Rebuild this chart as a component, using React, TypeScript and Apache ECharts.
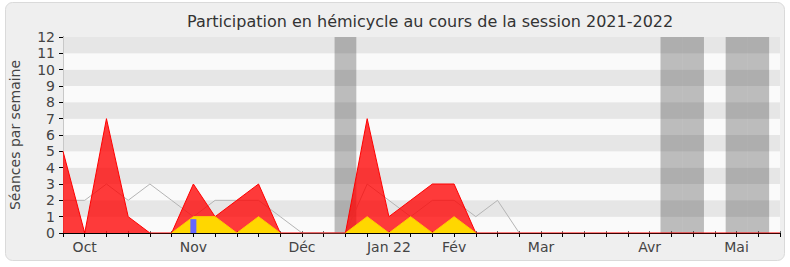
import React, { useEffect, useRef } from "react";
import * as echarts from "echarts";

// Weekly data (week index 0..33)
const weeks: number[] = Array.from({ length: 34 }, (_, i) => i);
const presence: number[] = [5, 0, 7, 1, 0, 0, 3, 1, 2, 3, 0, 0, 0, 0, 7, 1, 2, 3, 3, 0, 0, 0, 0, 0, 0, 0, 0, 0, 0, 0, 0, 0, 0, 0];
const interventions: (number | null)[] = [null, null, null, null, null, 0, 1, 1, 0, 1, 0, null, null, 0, 1, 0, 1, 0, 1, 0, null, null, null, null, null, null, null, null, null, null, null, null, null, null];
const median: (number | null)[] = [2, 2, 3, 2, 3, 2, 1, 2, 2, 2, 1, 0, 0, 0, 3, 2, 1, 2, 2, 1, 2, 0, null, null, null, null, null, null, null, null, null, null, null, null];
const questionWeeks: number[] = [6];
const questionValues: number[] = [0.85];
const holidayWeeks: number[] = [13, 28, 29, 31, 32];
const monthTickWeeks: number[] = [1, 6, 11, 15, 18, 22, 27, 31];
const monthLabels: string[] = ["Oct", "Nov", "Déc", "Jan 22", "Fév", "Mar", "Avr", "Mai"];
const yTicks: number[] = [0, 1, 2, 3, 4, 5, 6, 7, 8, 9, 10, 11, 12];

const FONT = "'DejaVu Sans', sans-serif";

export default function App() {
  const ref = useRef<HTMLDivElement>(null);
  useEffect(() => {
    if (!ref.current) return;
    const chart = echarts.init(ref.current, null, { renderer: "svg" });
    const labelMap: Record<number, string> = {};
    monthTickWeeks.forEach((w, i) => (labelMap[w] = monthLabels[i]));
    const questions: (number | null)[] = weeks.map((w) => {
      const k = questionWeeks.indexOf(w);
      return k >= 0 ? questionValues[k] : null;
    });
    chart.setOption({
      animation: false,
      backgroundColor: "#ffffff",
      textStyle: { fontFamily: FONT },
      title: {
        text: "Participation en hémicycle au cours de la session 2021-2022",
        left: 182,
        top: 8,
        textStyle: { fontFamily: FONT, fontSize: 16, fontWeight: "normal", color: "#333" },
      },
      graphic: {
        elements: [
          {
            type: "rect",
            z: -100,
            silent: true,
            shape: { x: 5.5, y: 2.5, width: 779, height: 258, r: 7 },
            style: { fill: "#efefef", stroke: "#dadada", lineWidth: 1 },
          },
        ],
      },
      grid: { left: 61, right: 10, top: 37, bottom: 34, containLabel: false },
      xAxis: [
        {
          type: "value",
          min: 0,
          max: weeks.length - 1,
          interval: 1,
          axisLine: { show: true, lineStyle: { color: "#000", width: 1 } },
          axisTick: { show: true, length: 4, lineStyle: { color: "#000" } },
          axisLabel: {
            formatter: (v: number) => labelMap[v] ?? "",
            fontFamily: FONT,
            fontSize: 14,
            color: "#444",
            margin: 7,
            showMinLabel: true,
            showMaxLabel: true,
          },
          splitLine: { show: false },
        },
        {
          type: "value",
          position: "top",
          min: 0,
          max: weeks.length - 1,
          interval: 1,
          axisLine: { show: false },
          axisTick: { show: true, length: 2, lineStyle: { color: "#666" } },
          axisLabel: { show: false },
          splitLine: { show: false },
        },
        {
          type: "category",
          data: weeks.map(String),
          boundaryGap: false,
          show: false,
        },
      ],
      yAxis: [
        {
          type: "value",
          min: yTicks[0],
          max: yTicks[yTicks.length - 1],
          interval: 1,
          name: "Séances par semaine",
          nameLocation: "middle",
          nameGap: 41,
          nameTextStyle: { fontFamily: FONT, fontSize: 14, color: "#444" },
          axisLine: { show: true, lineStyle: { color: "#000" } },
          axisTick: { show: true, length: 4, lineStyle: { color: "#000" } },
          axisLabel: { fontFamily: FONT, fontSize: 14, color: "#444", margin: 8 },
          splitLine: { show: false },
          splitArea: { show: true, areaStyle: { color: ["#fafafa", "#e6e6e6"] } },
        },
        {
          type: "value",
          position: "right",
          min: 0,
          max: 12,
          interval: 1,
          axisLine: { show: true, lineStyle: { color: "#c8c8c8" } },
          axisTick: { show: false },
          axisLabel: { show: false },
          splitLine: { show: false },
        },
      ],
      series: [
        {
          name: "Médiane",
          type: "line",
          z: 1,
          data: weeks.map((w) => [w, median[w]]),
          symbol: "none",
          connectNulls: false,
          lineStyle: { color: "#b4b4b4", width: 1 },
          markArea: {
            silent: true,
            itemStyle: { color: "rgba(30,30,30,0.28)" },
            data: holidayWeeks.map((w) => [{ xAxis: w - 0.5 }, { xAxis: w + 0.5 }]),
          },
        },
        {
          name: "Présences",
          type: "line",
          z: 2,
          data: weeks.map((w) => [w, presence[w]]),
          symbol: "none",
          lineStyle: { color: "#ff0000", width: 1 },
          areaStyle: { color: "#ff0000", opacity: 0.77, origin: "start" },
        },
        {
          name: "Interventions",
          type: "line",
          z: 3,
          data: weeks.map((w) => [w, interventions[w]]),
          symbol: "none",
          connectNulls: false,
          lineStyle: { color: "#ffcc00", width: 1 },
          areaStyle: { color: "#ffd700", opacity: 1, origin: "start" },
        },
        {
          name: "Questions",
          type: "bar",
          xAxisIndex: 2,
          z: 4,
          barWidth: 6,
          data: questions,
          itemStyle: { color: "#6666ff" },
        },
      ],
    });
    return () => chart.dispose();
  }, []);
  return <div ref={ref} style={{ position: "absolute", left: 0, top: 0, width: 790, height: 267 }} />;
}
